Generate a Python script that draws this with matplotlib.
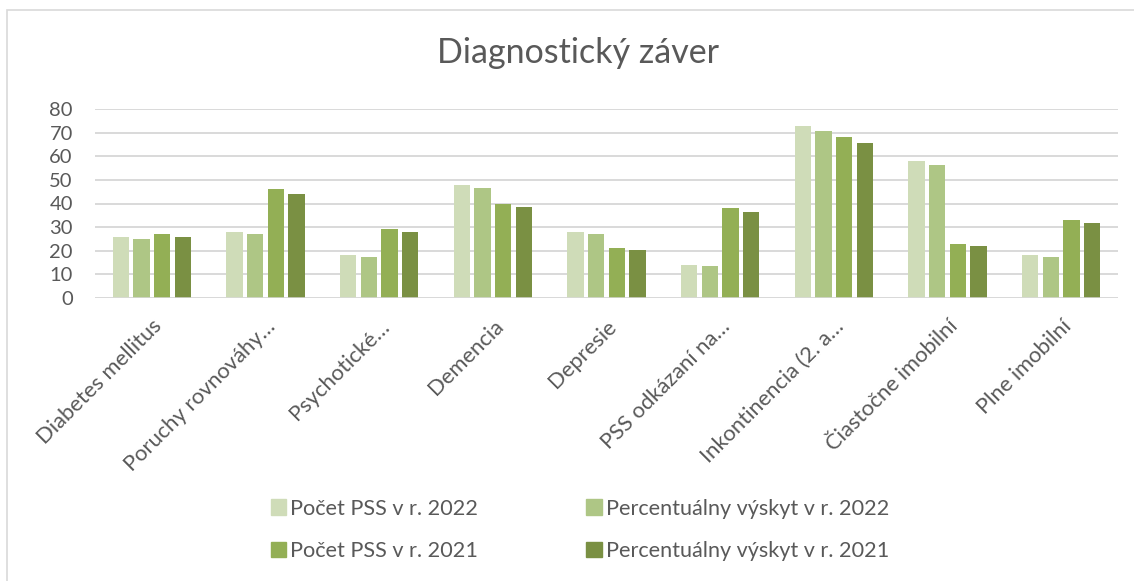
import matplotlib
matplotlib.use("Agg")
import matplotlib.pyplot as plt
import numpy as np
from matplotlib.patches import Rectangle

plt.rcParams['font.family'] = ['Lato', 'DejaVu Sans']

categories = ["Diabetes mellitus", "Poruchy rovnováhy…", "Psychotické…", "Demencia",
              "Depresie", "PSS odkázaní na…", "Inkontinencia (2. a…",
              "Čiastočne imobilní", "Plne imobilní"]
series_names = ["Počet PSS v r. 2022", "Percentuálny výskyt v r. 2022",
                "Počet PSS v r. 2021", "Percentuálny výskyt v r. 2021"]
pocet_2022 = [26, 28, 18, 48, 28, 14, 73, 58, 18]
perc_2022 = [25.1, 27.0, 17.3, 46.5, 27.0, 13.5, 70.8, 56.2, 17.3]
pocet_2021 = [27, 46, 29, 40, 21, 38, 68, 23, 33]
perc_2021 = [26.0, 44.2, 27.9, 38.5, 20.2, 36.5, 65.4, 22.1, 31.7]
yticks = [0, 10, 20, 30, 40, 50, 60, 70, 80]
title = "Diagnostický záver"

colors = ["#CFDCB8", "#AEC685", "#93AF55", "#7A9043"]
text_col = "#595959"
grid_col = "#D9D9D9"

W, H = 1134, 581
fig = plt.figure(figsize=(W/100, H/100), dpi=100)

# outer chart border
fig.patches.append(Rectangle((7/W, -0.05), 1.2, 1 - 10/H + 0.05, transform=fig.transFigure,
                             fill=False, edgecolor=grid_col, linewidth=1.2))

ax = fig.add_axes([95/W, (H-298)/H, (1118-95)/W, (298-109)/H])
x = np.arange(len(categories))
bw = 0.143
pitch = 0.182
data = [pocet_2022, perc_2022, pocet_2021, perc_2021]
for i, (vals, c, name) in enumerate(zip(data, colors, series_names)):
    ax.bar(x + (i - 1.5) * pitch, vals, width=bw, color=c, label=name, zorder=3)

ax.set_xlim(-0.5, len(categories) - 0.5)
ax.set_ylim(0, 80)
ax.set_yticks(yticks)
ax.yaxis.grid(True, color=grid_col, linewidth=1.4, zorder=0)
for s in ax.spines.values():
    s.set_visible(False)
ax.axhline(0, color=grid_col, linewidth=1.8, zorder=4)
ax.tick_params(axis='y', length=0, pad=16, labelsize=14.5, labelcolor=text_col)
ax.tick_params(axis='x', length=0, pad=13)
ax.set_xticks(x)
ax.set_xticklabels(categories, rotation=45, ha='right', va='top', rotation_mode='anchor',
                   fontsize=15.8, color=text_col)
for lbl in ax.get_xticklabels():
    lbl.set_x(lbl.get_position()[0])

fig.text(578/W, 1 - 53/H, title, ha='center', va='center', fontsize=24.5, color=text_col)

handles = [Rectangle((0, 0), 1, 1, color=c) for c in colors]
order = [0, 2, 1, 3]
leg = fig.legend([handles[i] for i in order], [series_names[i] for i in order],
                 loc='center', bbox_to_anchor=(580/W, 1 - 530/H),
                 ncol=2, frameon=False, fontsize=15.6, labelcolor=text_col,
                 handlelength=0.7, handleheight=0.7, handletextpad=0.2,
                 columnspacing=5.0, labelspacing=1.05)

fig.savefig("out.png", dpi=100)
